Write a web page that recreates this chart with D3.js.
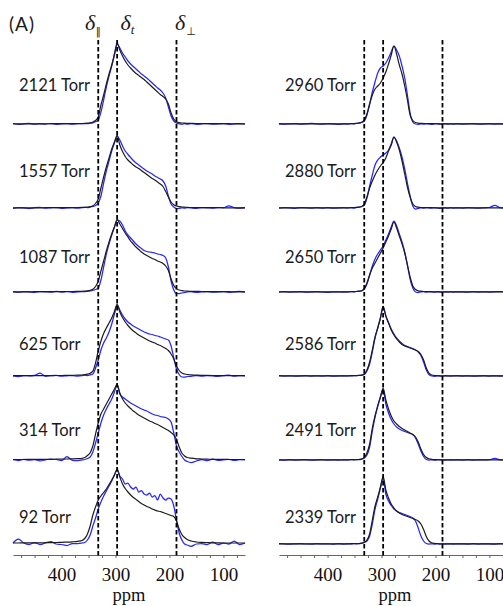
<!DOCTYPE html>
<html><head><meta charset="utf-8">
<script src="https://cdn.jsdelivr.net/npm/d3@7"></script>
<style>body{margin:0;background:#fff;} svg{display:block;}</style>
</head><body>
<svg id="c" width="503" height="606"></svg>
<script>
// chemical shift grid (ppm), shared by every spectrum
const ppm = [490,480,470,460,450,440,430,420,410,400,390,380,370,
 362,357,352,347,342,337,332,327,322,317,312,307,302,297,292,287,282,277,272,267,262,257,252,247,242,237,232,227,222,217,212,207,202,197,192,187,182,177,172,167,
 160,150,140,130,120,110,100,90,80,70,60];

// left column (low pressure): experiment (blue) and simulation (black)
const exp2121 = [0.5,-0.3,0.2,0.6,-0.2,0.3,0,0.5,-0.4,0.2,0.4,-0.2,0.3,
 0.2,0.5,0.3,0.8,1.2,2.2,4,12,24,37,48,58,69,80,76,71,67,63,60,57.5,55,52.5,50,48,46,43.5,41,38.5,36,34,31,26,17,8,3,1,0.2,-0.3,0.3,-0.2,
 0.4,-0.3,0.2,0.5,-0.2,0.1,0.4,-0.3,0.2,0.5,0];
const sim2121 = [0.2,0.2,0.2,0.2,0.2,0.2,0.2,0.3,0.3,0.3,0.3,0.4,0.4,
 0.5,0.6,0.8,1.2,2,3.5,7,19,29,40,50,59,70,81,74,68,63,59,56,53,50.5,48.5,46.5,44.5,42,39.5,37,34.5,32,29.5,27.5,25,20,11,5,2.2,1.4,1,0.8,0.7,
 0.6,0.5,0.4,0.4,0.3,0.3,0.3,0.3,0.2,0.2,0.2];
const exp1557 = [-0.3,0.4,0.1,-0.5,0.3,0.6,-0.2,0.2,0.5,-0.3,0.1,0.4,-0.2,
 0.3,0.6,0.4,0.9,1.5,2.5,5,12,25,37,47,57,65,72,68,62,57,53.5,50.5,47.5,45,43,41,39,37,35.5,34,32,30.5,29,27,22,12,4,1,-0.5,-0.3,0.2,-0.2,0.3,
 0.1,-0.3,0.4,0.2,-0.2,0.3,0.3,2.2,0.4,-0.2,0.3];
const sim1557 = [0.2,0.2,0.2,0.2,0.2,0.2,0.3,0.3,0.3,0.3,0.4,0.4,0.5,
 0.6,0.7,0.9,1.3,2.2,4.5,9,20,31,41,50,59,66,72.5,63,56.5,51.5,48,45.5,43,41,39.5,37.5,35.5,33.5,31.5,29.5,28,26,24,21.5,16.5,11,6,3.2,2,1.3,1,0.8,0.6,
 0.5,0.4,0.4,0.3,0.3,0.3,0.2,0.2,0.2,0.2,0.2];
const exp1087 = [0.3,-0.4,0.5,0.1,-0.3,0.4,0.2,-0.2,0.6,0,0.3,-0.3,0.2,
 0.4,0.3,0.7,1,1.5,2.5,4,12,25,38,48,57,65,72,71,67,61,57,54,51,48,45.5,43.5,41.5,40.5,40,39.5,39,38,37.5,36.5,34,25,11,2,-1.5,-1.5,-1,-0.5,0,
 0.3,-0.4,0.2,0.5,-0.2,0.1,0.4,-0.3,0.2,0.6,0.1];
const sim1087 = [0.2,0.2,0.2,0.2,0.3,0.3,0.3,0.3,0.4,0.4,0.5,0.5,0.6,
 0.7,0.9,1.1,1.6,2.8,5.5,11,21,31,41,50,58,65,72.5,68,63.5,59,55,51,48,45,42.5,40,38,36.5,35,33.5,32.5,31,30,28.5,26,21.5,13,6.5,3.4,2,1.4,1,0.8,
 0.7,0.6,0.5,0.4,0.4,0.3,0.3,0.3,0.2,0.2,0.2];
const exp625 = [0.2,-0.5,0.4,0.1,0.6,3,-0.3,0.3,0.6,-0.2,0.2,0.5,-0.1,
 0.3,0.8,0.5,1.2,2,8,16,26,33,38,44,52,62,71,66,61,57,54,52,50,48.5,47,45.5,44,43,42,41.5,40.5,40,39,38,37,36,30,18,7,1.5,-1,-1.2,-0.5,
 -0.3,0.4,-0.2,0.5,0.1,-0.4,0.3,1,-0.2,0.4,0];
const sim625 = [0.3,0.3,0.3,0.3,0.3,0.4,0.4,0.4,0.5,0.5,0.6,0.7,0.8,
 1,1.3,1.8,2.8,4.8,13,25,35,42.5,48,53,58,64.5,71.7,64,58.5,54,50.5,47.5,45,43,41,39.5,38,36.5,35,34,33,31.5,30.5,29,27.5,25.5,22,17,10,5.5,3,2,1.5,
 1.2,0.9,0.7,0.6,0.5,0.4,0.4,0.3,0.3,0.3,0.3];
const exp314 = [0.3,-0.5,0.6,-0.2,0.4,-0.8,0.2,1,0.5,-0.6,3.5,-0.3,-0.5,
 0,0.5,1.5,3,8,17,27,37,45,51,56,61,68,75,66,63,61,59,57,55.5,54,52.5,51,50,49,47.5,46,45,44.5,43.5,43,42.5,41,38,27,14,8,3.5,0,-1.5,
 -2.5,-1,0.4,-0.6,0.8,-0.3,0.2,0.6,-0.4,0.3,0];
const sim314 = [0.5,0.5,0.5,0.6,0.6,0.6,0.7,0.7,0.8,0.9,1,1.1,1.3,
 1.6,2.5,4.5,7.3,14,26,37,46,51,56,61,66,71,75.7,67,61,57,54,51.5,49,47,45,43.5,42,40.5,39,38,36.5,35.5,34,32.5,31,29.5,27.5,25,20.7,13,7,4,2.5,
 1.8,1.2,1,0.8,0.7,0.6,0.6,0.5,0.5,0.5,0.5];
const exp92 = [1,5,1,-0.5,1.5,-0.5,1,2.5,0,-0.5,-1.5,0.5,0.5,
 1,1.5,4,9,18,26,35,42,48,53,58,63,69,74,68,65,60,61,57,55,57,52,53.5,50,49,51,47,48.5,44,50,46,44,46,45,38,24,11,4,0,-1,
 -2.3,0,0.5,-0.7,2,-0.7,1,0,3,-0.5,1];
const sim92 = [1,1,1.1,1.1,1.2,1.2,1.3,1.4,1.5,1.7,1.9,2.2,2.7,
 3.5,5.5,10,18,29,37,44,48,51.5,55,59.5,64,69,75,67,60,55.5,52,49,46.5,44.5,42.5,40.5,39,37.5,36.5,35,34,33,32.5,31.5,30.5,29.5,28.5,27.5,23,15,9.5,6.5,4.5,
 3,2,1.6,1.4,1.2,1.1,1,1,1,1,1];

// right column (high pressure)
const exp2960 = [0.3,-0.2,0.2,0.4,-0.1,0.2,0.6,0,-0.2,0.3,0.1,-0.3,0.2,
 0,0.3,0.2,0.5,0.8,1.5,3,9,20,32,42,51,56,58,61,66,72,78,74,68,58,46,29,11,2,0,-0.3,0.2,-0.2,0.3,0,-0.3,0.2,0.4,-0.2,0.1,0.3,-0.1,0.2,-0.2,
 0.3,-0.1,0.2,0.4,-0.2,0.1,0.3,0,0.2,-0.1,0.2];
const sim2960 = [0.1,0.1,0.1,0.1,0.1,0.1,0.1,0.1,0.2,0.2,0.2,0.2,0.2,
 0.2,0.3,0.4,0.6,1,1.8,4,10,20,29,35,38,41,46,52,60,69,78,70,59,50,38,24,9,3.5,1.5,0.9,0.6,0.5,0.4,0.3,0.3,0.3,0.2,0.2,0.2,0.2,0.2,0.1,0.1,
 0.1,0.1,0.1,0.1,0.1,0.1,0.1,0.1,0.1,0.1,0.1];
const exp2880 = [-0.2,0.3,0.1,-0.3,0.4,0.2,-0.1,0.3,0,0.4,-0.2,0.1,0.3,
 0.1,0.3,0,0.4,0.7,1.3,3,10,22,33,43,48,51,53,55,58,64,71,67,60,51,39,25,12,2,-1,-0.5,0.2,-0.2,0.3,0.1,-0.2,0.3,0,-0.3,0.2,0.1,-0.2,0.3,0,
 0.2,-0.1,0.3,0.1,-0.2,0.2,0.5,2.7,0.3,-0.1,0.2];
const sim2880 = [0.1,0.1,0.1,0.1,0.1,0.1,0.1,0.1,0.2,0.2,0.2,0.2,0.2,
 0.2,0.3,0.4,0.6,0.9,1.5,4,11,20,27,33,38,42,45.5,50,57,63,71,66,58,47,34,21,11,4,1.5,0.8,0.5,0.4,0.3,0.3,0.3,0.2,0.2,0.2,0.2,0.2,0.1,0.1,0.1,
 0.1,0.1,0.1,0.1,0.1,0.1,0.1,0.1,0.1,0.1,0.1];
const exp2650 = [0.2,0.4,-0.1,0.2,0.3,-0.2,0.1,0.4,0,-0.3,0.2,0.1,-0.1,
 0.1,0.3,0.2,0.5,0.7,1.2,3,8,17,26,33,38,42,46,52,58,65,71,66,58,50,40,27,13,4,0,-0.5,0.2,0.3,-0.1,0.2,0,-0.2,0.3,0.1,-0.2,0.2,0,0.3,-0.1,
 0.2,0.1,-0.2,0.3,0,0.2,-0.1,0.3,0.4,0.1,-0.2];
const sim2650 = [0.1,0.1,0.1,0.1,0.1,0.1,0.1,0.1,0.2,0.2,0.2,0.2,0.2,
 0.2,0.3,0.4,0.5,0.8,1.3,3.5,9,17,24,29,34,39,44,50,56,63,70,64,56,48,39,27,15,6,2.5,1.2,0.8,0.5,0.4,0.3,0.3,0.2,0.2,0.2,0.2,0.2,0.1,0.1,0.1,
 0.1,0.1,0.1,0.1,0.1,0.1,0.1,0.1,0.1,0.1,0.1];
const exp2586 = [0.3,0,0.2,-0.2,0.1,0.3,-0.1,0.2,0,0.3,-0.2,0.1,0.2,
 0.2,0.1,0.3,0.4,0.5,0.8,1.5,5,12,24,38,48,58,69,60,53.5,47,42,38,35,32.5,30.5,29.5,28.5,27.5,26,24,20.5,14,6,1.5,0,-0.3,0.2,0.1,-0.2,0.3,0.1,-0.1,0.2,
 0.3,0,0.2,-0.2,0.1,0.4,0,0.2,-0.1,0.3,0.1];
const sim2586 = [0.1,0.1,0.1,0.1,0.1,0.1,0.1,0.1,0.2,0.2,0.2,0.2,0.2,
 0.2,0.3,0.3,0.4,0.6,0.9,2,6,14,26,39,48,58,69.7,60,53,46,41,37,34,31.5,30,29,28,27,26,24.5,21.5,16,8,3,1,0.5,0.3,0.2,0.2,0.2,0.2,0.1,0.1,
 0.1,0.1,0.1,0.1,0.1,0.1,0.1,0.1,0.1,0.1,0.1];
const exp2491 = [0.2,-0.1,0.3,0,0.2,0.4,-0.2,0.1,0.3,0,0.2,-0.1,0.1,
 0.1,0.3,0.2,0.3,0.5,0.8,2,5,13,29,43,54,63,71,56,47,40.5,36,33,31,29.5,28.5,27.5,26.5,25.5,22,16,9,3.5,0.5,0,0.2,-0.2,0.1,0.3,0,-0.1,0.2,0,0.1,
 0.2,0,0.3,-0.1,0.2,0.1,0.3,1.7,0.2,0,0.1];
const sim2491 = [0.1,0.1,0.1,0.1,0.1,0.1,0.1,0.1,0.2,0.2,0.2,0.2,0.2,
 0.2,0.3,0.3,0.4,0.4,0.9,2.5,7,16,32,44,54,63,71.7,60,51,44,39,36,33.5,31.5,30,28.5,27,25.5,23,18,11,5.5,2.5,1.2,0.7,0.4,0.3,0.2,0.2,0.2,0.2,0.1,0.1,
 0.1,0.1,0.1,0.1,0.1,0.1,0.1,0.1,0.1,0.1,0.1];
const exp2339 = [0.3,0.1,-0.2,0.2,0.4,0,-0.1,0.3,0.1,0.2,-0.2,0.3,0,
 0.2,0,0.3,0.2,0.4,0.6,1.5,3,8,20,35,45,56,66,50,43,38.5,35,33,31.5,30.5,29.5,28.5,27.5,26,23,16,8,3,0.5,0,0.2,-0.1,0.3,0,0.2,-0.1,0.1,0.2,0,
 0.2,0.1,-0.1,0.3,0,0.2,0.1,-0.2,0.3,0.1,0];
const sim2339 = [0.1,0.1,0.1,0.1,0.1,0.1,0.1,0.1,0.2,0.2,0.2,0.2,0.2,
 0.2,0.3,0.3,0.4,0.4,0.8,1.8,4,10,24,38,47,57,67.3,54,46,40,36,33,31,29.5,28.5,27.5,26.5,25.5,24.5,23,20,14.5,7.5,3,1.2,0.6,0.3,0.2,0.2,0.2,0.2,0.1,0.1,
 0.1,0.1,0.1,0.1,0.1,0.1,0.1,0.1,0.1,0.1,0.1];

const leftLabels = ["2121 Torr","1557 Torr","1087 Torr","625 Torr","314 Torr","92 Torr"];
const rightLabels = ["2960 Torr","2880 Torr","2650 Torr","2586 Torr","2491 Torr","2339 Torr"];
const leftExp = [exp2121,exp1557,exp1087,exp625,exp314,exp92];
const leftSim = [sim2121,sim1557,sim1087,sim625,sim314,sim92];
const rightExp = [exp2960,exp2880,exp2650,exp2586,exp2491,exp2339];
const rightSim = [sim2960,sim2880,sim2650,sim2586,sim2491,sim2339];
const refShifts = [332, 297, 187];          // delta_par, delta_t, delta_perp
const tickValues = [475,450,425,400,375,350,325,300,275,250,225,200,175,150,125,100,75];
const tickLabels = [400,300,200,100];

const svg = d3.select("#c");
const rowY = d3.scaleLinear().domain([0,5]).range([124,544]);
const labelY = d3.scaleLinear().domain([0,5]).range([90.5,522.5]);
const amp = d3.scaleLinear().domain([0,80]).range([0,80]);
const serif = "'Liberation Serif', 'Times New Roman', serif";
const sans = "Lato, 'Open Sans', sans-serif";

const panels = [
  {x0:13, x1:245, labelX:19, labels:leftLabels, exp:leftExp, sim:leftSim},
  {x0:279, x1:511, labelX:285, labels:rightLabels, exp:rightExp, sim:rightSim}
];

panels.forEach(pn => {
  const x = d3.scaleLinear().domain([490,60]).range([pn.x0,pn.x1]);
  const g = svg.append("g");

  // axis
  const axis = d3.axisBottom(x).tickValues(tickValues).tickSize(3).tickSizeOuter(0).tickPadding(10)
    .tickFormat(d => tickLabels.includes(d) ? d : "");
  const ag = g.append("g").attr("transform","translate(0,555)").call(axis);
  ag.select(".domain").attr("stroke","#666").attr("stroke-width",1);
  ag.selectAll(".tick line").attr("stroke","#666");
  ag.selectAll(".tick text").attr("font-family",serif).attr("font-size",19).attr("fill","#111");
  g.append("text").attr("x",(pn.x0+pn.x1)/2).attr("y",600.5).attr("text-anchor","middle")
    .attr("font-family",serif).attr("font-size",18.5).attr("fill","#111").text("ppm");

  pn.labels.forEach((lab,i) => {
    const base = rowY(i);
    const line = d3.line().x((d,j) => x(ppm[j])).y(d => base - amp(d)).curve(d3.curveMonotoneX);
    g.append("path").attr("d",line(pn.exp[i])).attr("fill","none").attr("stroke","#2626ff").attr("stroke-width",1.25);
    g.append("path").attr("d",line(pn.sim[i])).attr("fill","none").attr("stroke","#1c1c1c").attr("stroke-width",1.2);
    g.append("text").attr("x",pn.labelX).attr("y",labelY(i)).attr("font-family",sans)
      .attr("font-size",16.5).attr("fill","#1a1a1a").text(lab);
  });

  refShifts.forEach(v => {
    g.append("line").attr("x1",x(v)).attr("x2",x(v)).attr("y1",40).attr("y2",556)
      .attr("stroke","#000").attr("stroke-width",1.8).attr("stroke-dasharray","4.5,2.5");
  });
});

// header (left panel only)
svg.append("text").attr("x",9).attr("y",31).attr("font-family",sans)
  .attr("font-size",19).attr("letter-spacing",1).attr("fill","#1a1a1a").text("(A)");
const t1 = svg.append("text").attr("x",85).attr("y",29.5).attr("font-family",serif).attr("font-size",22).attr("fill","#1a1a1a");
t1.append("tspan").attr("font-style","italic").text("δ");
t1.append("tspan").attr("font-family","'DejaVu Sans', sans-serif").attr("font-size",10).attr("dy",5).attr("dx",0.5).text("‖");
const t2 = svg.append("text").attr("x",120.5).attr("y",29.5).attr("font-family",serif).attr("font-size",22).attr("fill","#1a1a1a");
t2.append("tspan").attr("font-style","italic").text("δ");
t2.append("tspan").attr("font-style","italic").attr("font-size",13).attr("dy",4).text("t");
const t3 = svg.append("text").attr("x",175).attr("y",29.5).attr("font-family",serif).attr("font-size",22).attr("fill","#1a1a1a");
t3.append("tspan").attr("font-style","italic").text("δ");
t3.append("tspan").attr("font-family","'DejaVu Sans', sans-serif").attr("font-size",11).attr("dy",5).attr("dx",1).text("⊥");
</script>
</body></html>
